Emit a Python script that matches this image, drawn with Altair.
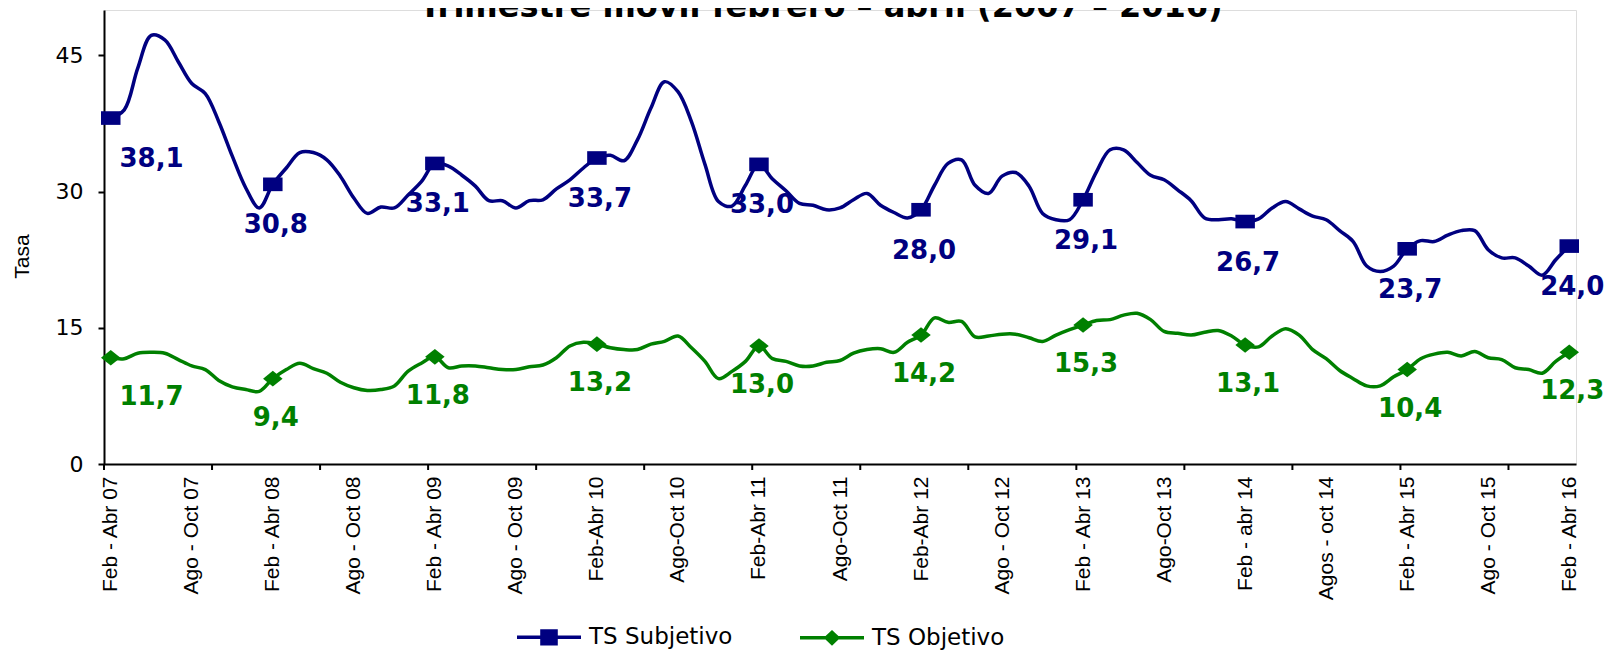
import altair as alt
import pandas as pd

title_text = "Trimestre móvil febrero – abril (2007 – 2016)"
series_names = ["TS Subjetivo", "TS Objetivo"]
series_colors = ["#000080", "#008000"]

x_labels = [
    "Feb - Abr 07", "Ago - Oct 07", "Feb - Abr 08", "Ago - Oct 08",
    "Feb - Abr 09", "Ago - Oct 09", "Feb-Abr 10", "Ago-Oct 10",
    "Feb-Abr 11", "Ago-Oct 11", "Feb-Abr 12", "Ago - Oct 12",
    "Feb - Abr 13", "Ago-Oct 13", "Feb - abr 14", "Agos - oct 14",
    "Feb - Abr 15", "Ago - Oct 15", "Feb - Abr 16",
]

subjetivo = [
    38.1, 39.0, 43.6, 47.2, 46.7, 44.3, 41.9, 40.8, 37.7, 33.9, 30.4, 28.2,
    30.8, 32.6, 34.3, 34.3, 33.5, 31.7, 29.3, 27.6, 28.3, 28.2, 29.6, 31.1,
    33.1, 32.8, 31.8, 30.6, 29.0, 29.0, 28.2, 29.0, 29.1, 30.3, 31.3, 32.6,
    33.7, 34.0, 33.4, 35.7, 39.2, 42.1, 41.0, 37.7, 33.0, 28.9, 28.4, 30.7,
    33.0, 31.4, 30.1, 28.7, 28.5, 28.0, 28.2, 29.1, 29.8, 28.5, 27.7, 27.1,
    28.0, 30.7, 33.1, 33.5, 30.7, 29.8, 31.7, 32.1, 30.6, 27.6, 26.9, 26.9,
    29.1, 32.2, 34.6, 34.6, 33.2, 31.8, 31.3, 30.2, 29.0, 27.1, 26.9, 27.0,
    26.7, 27.0, 28.2, 28.9, 28.1, 27.3, 26.9, 25.7, 24.5, 21.8, 21.2, 21.8,
    23.7, 24.6, 24.5, 25.2, 25.7, 25.7, 23.6, 22.7, 22.7, 21.8, 20.8, 22.5,
    24.0,
]

objetivo = [
    11.7, 11.6, 12.2, 12.3, 12.2, 11.5, 10.8, 10.4, 9.2, 8.5, 8.2, 8.0,
    9.4, 10.4, 11.1, 10.5, 10.0, 9.0, 8.4, 8.1, 8.2, 8.6, 10.2, 11.1,
    11.8, 10.6, 10.8, 10.8, 10.6, 10.4, 10.4, 10.7, 10.9, 11.7, 13.0, 13.4,
    13.2, 12.8, 12.6, 12.6, 13.2, 13.5, 14.1, 12.8, 11.3, 9.4, 10.2, 11.3,
    13.0, 11.6, 11.3, 10.8, 10.8, 11.2, 11.4, 12.2, 12.6, 12.7, 12.3, 13.4,
    14.2, 16.1, 15.6, 15.7, 14.0, 14.1, 14.3, 14.3, 13.9, 13.5, 14.2, 14.8,
    15.3, 15.8, 15.9, 16.4, 16.6, 15.9, 14.6, 14.4, 14.2, 14.5, 14.7, 14.1,
    13.1, 12.9, 14.1, 14.9, 14.2, 12.6, 11.6, 10.3, 9.4, 8.6, 8.6, 9.6,
    10.4, 11.6, 12.1, 12.3, 11.9, 12.4, 11.7, 11.5, 10.6, 10.4, 10.0, 11.3,
    12.3,
]

y_ticks = [0, 15, 30, 45]
tick_bounds = [-0.5, 7.5, 15.5, 23.5, 31.5, 39.5, 47.5, 55.5, 63.5, 71.5,
               79.5, 87.5, 95.5, 103.5]

n = len(subjetivo)
df = pd.DataFrame({
    "i": list(range(n)) * 2,
    "v": subjetivo + objetivo,
    "s": [series_names[0]] * n + [series_names[1]] * n,
})
ticks_df = pd.DataFrame({"b": tick_bounds})
title_df = pd.DataFrame({"t": [title_text]})

label_positions = list(range(0, n, 6))
label_js = "[" + ",".join("'" + t + "'" for t in x_labels) + "]"

xscale = alt.Scale(domain=[-0.5, n - 0.5], nice=False, zero=False)
yscale = alt.Scale(domain=[0, 50], nice=False)

xaxis = alt.Axis(
    values=label_positions, labelExpr=label_js + "[round(datum.value/6)]",
    ticks=False, grid=False, domainColor="black", domainWidth=2,
    labelAngle=270, labelFont="Liberation Sans", labelFontSize=21,
    labelColor="black", labelPadding=12, title=None, labelOverlap=False,
    labelFlush=False,
)
yaxis = alt.Axis(
    values=y_ticks, title="Tasa", grid=False, domainColor="black",
    domainWidth=2, tickColor="black", tickWidth=2, tickSize=6,
    labelFont="DejaVu Sans", labelFontSize=22, labelColor="black",
    labelPadding=15, titleFont="Liberation Sans", titleFontSize=21,
    titleFontWeight="normal", titleColor="black", titleAngle=270,
    titleX=-82, titleY=246, titleAlign="center", titleBaseline="middle",
)

X = alt.X("i:Q", scale=xscale, axis=xaxis)
Y = alt.Y("v:Q", scale=yscale, axis=yaxis)

base = alt.Chart(df)

marker_paths = ["M-1,-0.7H1V0.7H-1Z", "M-1,0L0,-0.8L1,0L0,0.8Z"]
legend_paths = ["M-1,0H1M-0.22,-0.2H0.22V0.2H-0.22Z",
                "M-1,0H1M-0.18,0L0,-0.17L0.18,0L0,0.17Z"]
label_dy = [49, 47]

layers = []
for k, name in enumerate(series_names):
    sel = base.transform_filter(alt.datum.s == name)
    layers.append(
        sel.mark_line(interpolate="catmull-rom", strokeWidth=3.5,
                      color=series_colors[k], clip=False).encode(x=X, y=Y)
    )
    pts = sel.transform_filter("datum.i % 12 == 0")
    layers.append(
        pts.mark_point(filled=True, shape=marker_paths[k], size=380,
                       color=series_colors[k], opacity=1, strokeWidth=0,
                       clip=False)
        .encode(x=X, y=Y)
    )
    layers.append(
        pts.transform_calculate(
            lbl="replace(format(datum.v, '.1f'), '.', ',')",
            lx="datum.i == 0 ? 2.8 : datum.i",
        )
        .mark_text(font="DejaVu Sans", fontSize=26, fontWeight="bold",
                   color=series_colors[k], dx=3, dy=label_dy[k],
                   baseline="alphabetic", align="center", clip=False)
        .encode(x=alt.X("lx:Q", scale=xscale, axis=xaxis), y=Y, text="lbl:N")
    )

layers.append(
    alt.Chart(ticks_df).mark_rule(color="black", strokeWidth=2, clip=False).encode(
        x=alt.X("b:Q", scale=xscale, axis=xaxis),
        y=alt.value(454), y2=alt.value(460),
    )
)

layers.append(
    alt.Chart(title_df).mark_text(
        font="DejaVu Sans", fontSize=32, fontWeight="bold", color="black",
        baseline="alphabetic", align="center", clip=False,
    ).encode(text="t:N", x=alt.value(717), y=alt.value(7))
)

leg = alt.Legend(
    orient="none", legendX=411, legendY=593, direction="horizontal",
    columns=2, title=None, labelFont="DejaVu Sans", labelFontSize=23,
    labelColor="black", labelOffset=6, symbolSize=4096,
    symbolStrokeWidth=3.5, columnPadding=60, padding=0, symbolOpacity=1,
)
layers.append(
    base.transform_filter("false").mark_point(filled=True, opacity=1).encode(
        shape=alt.Shape("s:N", scale=alt.Scale(domain=series_names, range=legend_paths), legend=leg),
        fill=alt.Fill("s:N", scale=alt.Scale(domain=series_names, range=series_colors), legend=leg),
        stroke=alt.Stroke("s:N", scale=alt.Scale(domain=series_names, range=series_colors), legend=leg),
    )
)

chart = alt.layer(*layers).properties(
    width=1472, height=454,
    padding={"left": 96, "top": 2, "right": 30, "bottom": 186},
    autosize=alt.AutoSizeParams(type="none"),
).configure_view(stroke=None).configure(background="white")

chart.save("out.html", embed_options={"renderer": "svg", "actions": False})
